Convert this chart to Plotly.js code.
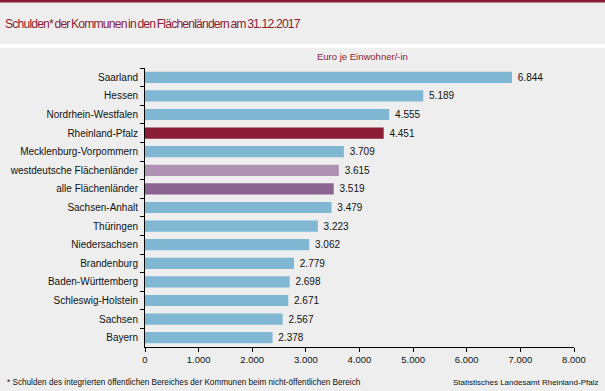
<!DOCTYPE html>
<html>
<head>
<meta charset="utf-8">
<script src="https://cdn.plot.ly/plotly-3.0.1.min.js"></script>
<style>
html,body{margin:0;padding:0;background:#edeeed;}
#chart{width:605px;height:391px;}
#chart .gtitle{letter-spacing:-0.85px;word-spacing:-1px;}
</style>
</head>
<body>
<div id="chart"></div>
<script>
const categories = ["Saarland","Hessen","Nordrhein-Westfalen","Rheinland-Pfalz","Mecklenburg-Vorpommern","westdeutsche Flächenländer","alle Flächenländer","Sachsen-Anhalt","Thüringen","Niedersachsen","Brandenburg","Baden-Württemberg","Schleswig-Holstein","Sachsen","Bayern"];
const values = [6844,5189,4555,4451,3709,3615,3519,3479,3223,3062,2779,2698,2671,2567,2378];
const barColors = ["#80b8d4","#80b8d4","#80b8d4","#8a1c35","#80b8d4","#ae92b2","#8b6591","#80b8d4","#80b8d4","#80b8d4","#80b8d4","#80b8d4","#80b8d4","#80b8d4","#80b8d4"];
const xTicks = [0,1000,2000,3000,4000,5000,6000,7000,8000];

const font = "Liberation Sans, Arial, sans-serif";
const red = "#8a1c35";

// plot area in pixels: x 145..574, y 68..347
const L=145, R=574, T=68, B=347;
const px = x => (x-L)/(R-L);
const py = y => (B-y)/(B-T);

const trace = {
  type:"bar", orientation:"h",
  y: categories, x: values,
  marker:{color: barColors, line:{width:0}},
  text: values, texttemplate:" %{x:,}", textposition:"outside",
  textfont:{family:font, size:10, color:"#111"},
  cliponaxis:false, hoverinfo:"none"
};

const layout = {
  width:605, height:391,
  margin:{l:L, r:605-R, t:T, b:391-B, pad:0},
  paper_bgcolor:"#edeeed", plot_bgcolor:"#edeeed",
  separators:",.",
  showlegend:false,
  bargap:0.4,
  font:{family:font, size:10, color:"#111"},
  title:{text:"Schulden* der Kommunen in den Flächenländern am 31.12.2017",
    x:5/605, xanchor:"left", xref:"container", y:1-24/391, yanchor:"middle", yref:"container",
    font:{family:font, size:12.2, color:red}},
  xaxis:{range:[0,8000], tickvals:xTicks, tickformat:",", ticks:"outside", ticklen:4, tickcolor:"#000",
    showline:true, linecolor:"#000", linewidth:1, showgrid:false, zeroline:false,
    tickfont:{family:font, size:9.5, color:"#111"}, fixedrange:true},
  yaxis:{type:"category", autorange:"reversed", ticks:"outside", ticklen:4, tickcolor:"#000",
    tickson:"boundaries", showline:true, linecolor:"#000", linewidth:1, showgrid:false, zeroline:false,
    ticklabelstandoff:4,
    tickfont:{family:font, size:10, color:"#111"}, fixedrange:true},
  shapes:[
    {type:"rect", xref:"paper", yref:"paper", x0:px(-5), x1:px(610), y0:py(2.5), y1:py(-5), fillcolor:red, line:{width:0}, layer:"below"},
    {type:"rect", xref:"paper", yref:"paper", x0:px(-5), x1:px(610), y0:py(48), y1:py(44), fillcolor:"#ffffff", line:{width:0}, layer:"below"}
  ],
  annotations:[
    {text:"Euro je Einwohner/-in", xref:"paper", yref:"paper", x:px(362), y:py(57), xanchor:"center", yanchor:"middle",
      showarrow:false, font:{family:font, size:9.5, color:red}},
    {text:"* Schulden des integrierten öffentlichen Bereiches der Kommunen beim nicht-öffentlichen Bereich", xref:"paper", yref:"paper",
      x:px(5), y:py(382), xanchor:"left", yanchor:"middle", showarrow:false, font:{family:font, size:8.2, color:"#111"}},
    {text:"Statistisches Landesamt Rheinland-Pfalz", xref:"paper", yref:"paper",
      x:px(600), y:py(383), xanchor:"right", yanchor:"middle", showarrow:false, font:{family:font, size:8, color:"#111"}}
  ]
};

Plotly.newPlot("chart",[trace],layout,{staticPlot:true, displayModeBar:false});
</script>
</body>
</html>
